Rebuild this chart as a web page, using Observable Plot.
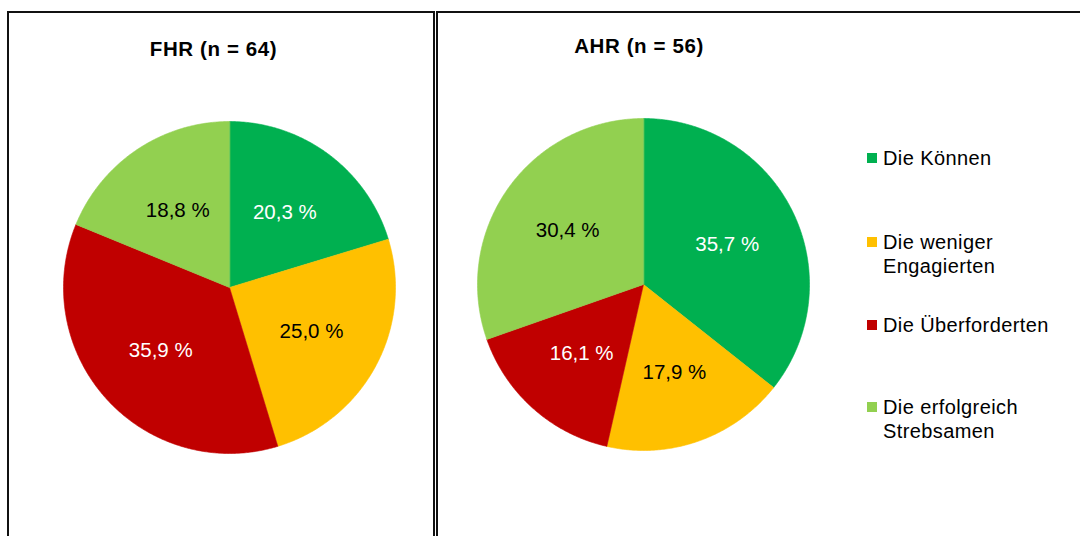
<!DOCTYPE html>
<html>
<head>
<meta charset="utf-8">
<script src="https://cdn.jsdelivr.net/npm/d3@7"></script>
<script src="https://cdn.jsdelivr.net/npm/@observablehq/plot@0.6"></script>
<style>
  html, body { margin: 0; padding: 0; background: #fff; }
  body { width: 1080px; height: 536px; position: relative; overflow: hidden;
         font-family: "Liberation Sans", Arial, sans-serif; color: #000; }
  .box { position: absolute; top: 11px; height: 620px; border: 2px solid #111; box-sizing: border-box; }
  .title { position: absolute; width: 240px; text-align: center; font-weight: bold;
           font-size: 20.5px; line-height: 20px; letter-spacing: 0.6px; white-space: nowrap; }
  .pie { position: absolute; }
  .leg { position: absolute; left: 867px; width: 200px; }
  .leg .sw { position: absolute; left: 0; top: 7px; width: 10px; height: 10px; }
  .leg .tx { position: absolute; left: 16px; width: 185px; font-size: 20px; line-height: 24px; letter-spacing: 0.4px; }
</style>
</head>
<body>
<div class="box" style="left:7px;width:428px;"></div>
<div class="box" style="left:436px;width:700px;"></div>
<script>
// ---- data ----
const categories = ["Die Können", "Die weniger Engagierten", "Die Überforderten", "Die erfolgreich Strebsamen"];
const fhrValues = [20.3, 25.0, 35.9, 18.8];
const ahrValues = [35.7, 17.9, 16.1, 30.4];
const panelTitles = ["FHR (n = 64)", "AHR (n = 56)"];

// ---- styles ----
const sliceColors = ["#00B050", "#FFC000", "#C00000", "#92D050"];
const whiteLabelCats = new Set(["Die Können", "Die Überforderten"]);
const fmt = v => v.toFixed(1).replace(".", ",") + " %";

function pieParts(values) {
  const total = d3.sum(values);
  const pts = [];
  const labels = [];
  let acc = 0;
  values.forEach((v, i) => {
    const a0 = acc / total * 2 * Math.PI;
    acc += v;
    const a1 = acc / total * 2 * Math.PI;
    const cat = categories[i];
    pts.push({cat, x: 0, y: 0});
    const n = Math.max(2, Math.ceil((a1 - a0) / (Math.PI / 360)));
    for (let k = 0; k <= n; k++) {
      const a = a0 + (a1 - a0) * k / n;
      pts.push({cat, x: Math.sin(a), y: Math.cos(a)});
    }
    const am = (a0 + a1) / 2;
    labels.push({cat, value: v, x: 0.56 * Math.sin(am), y: 0.56 * Math.cos(am)});
  });
  return {pts, labels};
}

function pie(values, size) {
  const {pts, labels} = pieParts(values);
  return Plot.plot({
    width: size, height: size, margin: 4,
    x: {domain: [-1, 1], axis: null},
    y: {domain: [-1, 1], axis: null},
    color: {domain: categories, range: sliceColors},
    style: {background: "transparent", fontFamily: "'Liberation Sans', Arial, sans-serif", overflow: "visible"},
    marks: [
      Plot.line(pts, {x: "x", y: "y", z: "cat", fill: "cat", stroke: "cat", strokeWidth: 0.6, curve: "linear-closed"}),
      Plot.text(labels.filter(d => whiteLabelCats.has(d.cat)), {x: "x", y: "y", text: d => fmt(d.value), fill: "white", fontSize: 20.5}),
      Plot.text(labels.filter(d => !whiteLabelCats.has(d.cat)), {x: "x", y: "y", text: d => fmt(d.value), fill: "black", fontSize: 20.5})
    ]
  });
}

function place(el, left, top, cls) {
  el.classList.add(cls);
  el.style.left = left + "px";
  el.style.top = top + "px";
  document.body.appendChild(el);
}

// pies
place(pie(fhrValues, 340), 58.5, 117.3, "pie");
place(pie(ahrValues, 340), 473.3, 114, "pie");

// titles
const titlePos = [[213.5, 39], [639, 35.5]];
panelTitles.forEach((t, i) => {
  const d = document.createElement("div");
  d.textContent = t;
  place(d, titlePos[i][0] - 120, titlePos[i][1], "title");
});

// legend
const legendTops = [146, 230, 313, 395];
categories.forEach((c, i) => {
  const item = document.createElement("div");
  const sw = document.createElement("div");
  sw.className = "sw";
  sw.style.background = sliceColors[i];
  const tx = document.createElement("div");
  tx.className = "tx";
  tx.textContent = c;
  item.appendChild(sw);
  item.appendChild(tx);
  item.className = "leg";
  item.style.top = legendTops[i] + "px";
  document.body.appendChild(item);
});
</script>
</body>
</html>
